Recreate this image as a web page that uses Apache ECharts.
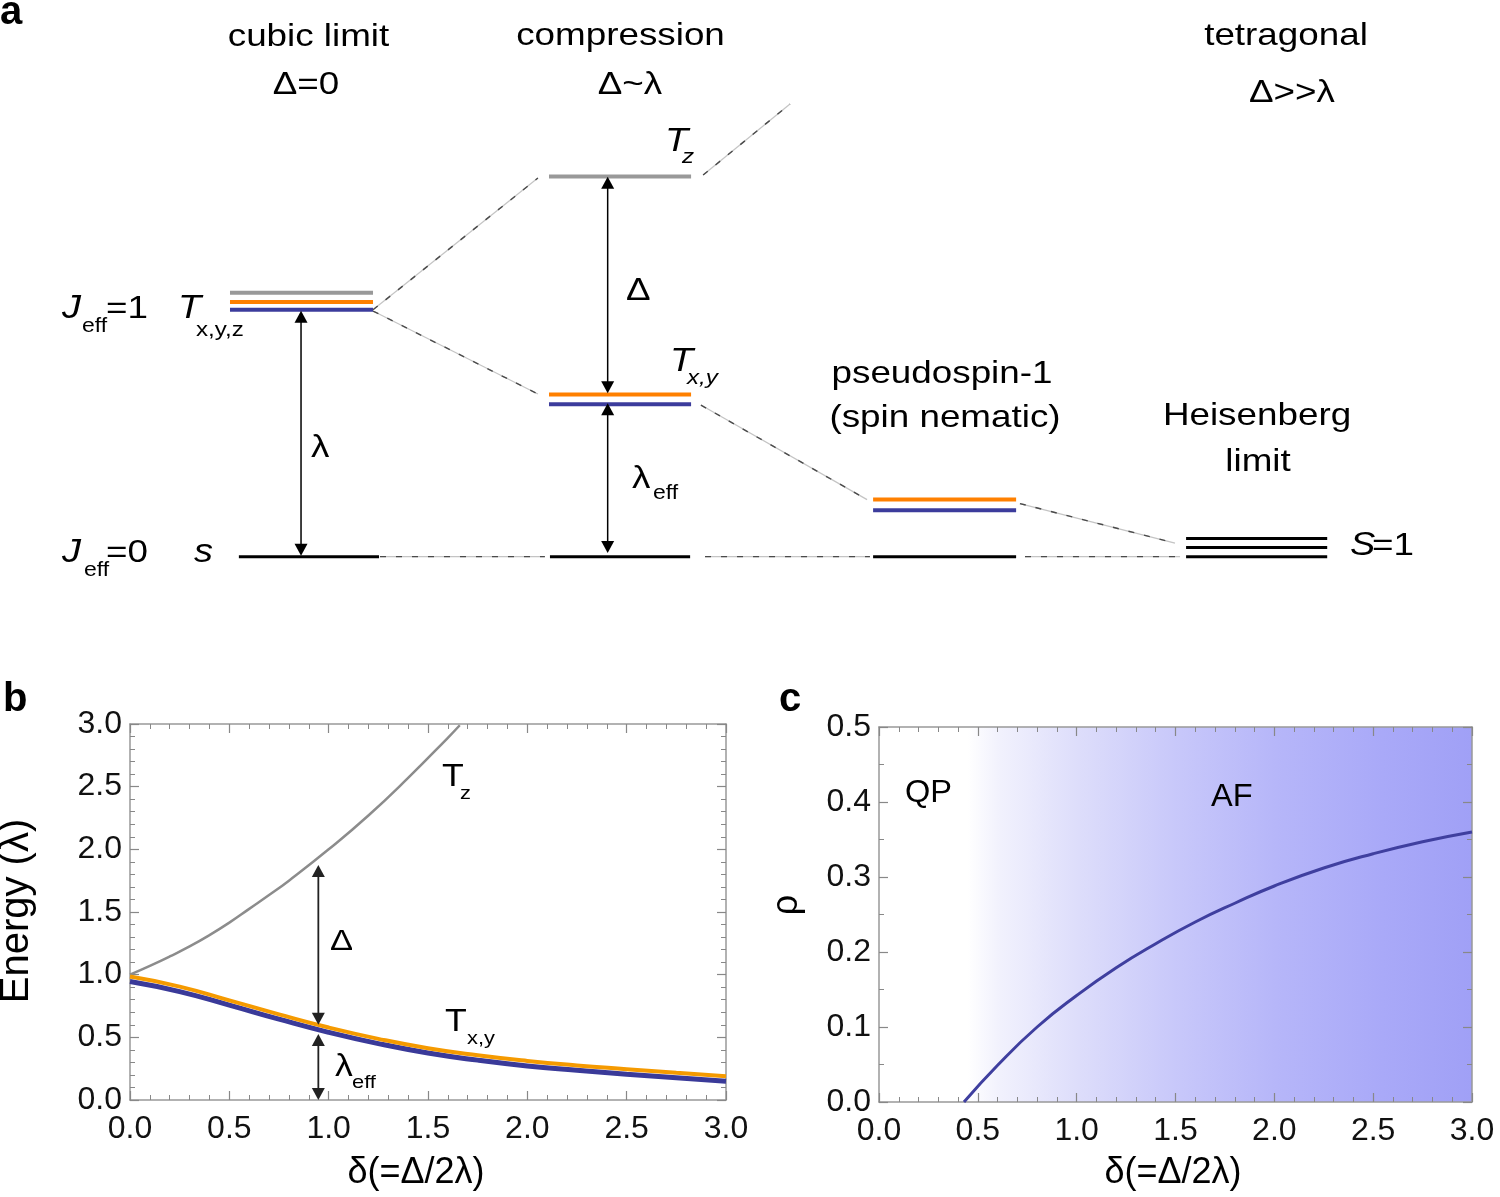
<!DOCTYPE html>
<html><head><meta charset="utf-8">
<script src="https://cdn.jsdelivr.net/npm/echarts@6/dist/echarts.min.js"></script>
<style>html,body{margin:0;padding:0;background:#fff}#c{width:1500px;height:1197px}</style>
</head><body><div id="c"></div>
<script>
// ---------- Panel a: energy-level scheme (x: configuration column, y: energy in units of λ) ----------
// segments [x0, x1, E]
const aGrayLevels   = [[-0.236, 0.215, 1.069], [0.770, 1.218, 1.540]];
const aOrangeLevels = [[-0.236, 0.215, 1.032], [0.770, 1.218, 0.657], [1.792, 2.243, 0.231]];
const aBlueLevels   = [[-0.236, 0.215, 1.000], [0.770, 1.218, 0.617], [1.792, 2.243, 0.188]];
const aBlackLevels  = [[-0.208, 0.234, 0], [0.773, 1.215, 0], [1.792, 2.243, 0],
                       [2.779, 3.224, 0.073], [2.779, 3.224, 0.037], [2.779, 3.224, 0.0]];
// connectors [x0, E0, x1, E1]
const aConnectors = [[0.215, 1.0, 0.735, 1.534], [0.215, 0.995, 0.735, 0.659],
                     [1.256, 1.546, 1.530, 1.834], [1.249, 0.614, 1.773, 0.231],
                     [2.255, 0.215, 2.744, 0.055]];
const aGroundLinks = [[0.237, 0, 0.757, 0], [1.262, 0, 1.782, 0], [2.271, 0, 2.760, 0]];
// double arrows [x, Etop, Ebottom]
const aArrows = [[-0.012, 0.996, 0.004], [0.955, 1.539, 0.662], [0.955, 0.621, 0.015]];

// ---------- Panel b: energies vs δ ----------
const bDelta    = [0, 0.25, 0.5, 0.75, 1.0, 1.25, 1.5, 1.75, 2.0, 2.25, 2.5, 2.75, 3.0];
const bTxyUpper = [0.985, 0.905, 0.795, 0.683, 0.578, 0.488, 0.413, 0.357, 0.312, 0.276, 0.246, 0.217, 0.19];
const bTxyLower = [0.945, 0.865, 0.757, 0.645, 0.54, 0.45, 0.375, 0.318, 0.272, 0.238, 0.206, 0.177, 0.15];
const bTzDelta  = [0, 0.1, 0.2, 0.3, 0.4, 0.5, 0.6, 0.7, 0.8, 1.0, 1.2, 1.4, 1.6, 1.66];
const bTz       = [1.0, 1.07, 1.145, 1.225, 1.315, 1.415, 1.525, 1.635, 1.75, 2.00, 2.27, 2.57, 2.89, 2.99];
const bArrows   = [[0.948, 1.875, 0.60], [0.948, 0.527, 0.0]];

// ---------- Panel c: phase boundary ----------
const cDelta = [0.43, 0.6, 0.8, 1.0, 1.2, 1.4, 1.6, 1.8, 2.0, 2.25, 2.5, 2.75, 3.0];
const cRho   = [0, 0.049, 0.100, 0.142, 0.179, 0.211, 0.240, 0.265, 0.288, 0.312, 0.331, 0.347, 0.360];

const FONT = "'Liberation Sans', Arial, Helvetica, sans-serif";
const zip = (xs, ys) => xs.map((x, i) => [x, ys[i]]);

function levelRender(color, lw) {
  return (p, api) => {
    const a = api.coord([api.value(0), api.value(2)]);
    const b = api.coord([api.value(1), api.value(2)]);
    return {type: 'line', shape: {x1: a[0], y1: a[1], x2: b[0], y2: b[1]},
            style: {stroke: color, lineWidth: lw}};
  };
}
function connRender(x0i, y0i, x1i, y1i) {
  return (p, api) => {
    const a = api.coord([api.value(x0i), api.value(y0i)]);
    const b = api.coord([api.value(x1i), api.value(y1i)]);
    const shape = {x1: a[0], y1: a[1], x2: b[0], y2: b[1]};
    return {type: 'group', children: [
      {type: 'line', shape, style: {stroke: '#c4c4c4', lineWidth: 1.2}},
      {type: 'line', shape, style: {stroke: '#4a4a4a', lineWidth: 1.4, lineDash: [6, 10]}}
    ]};
  };
}
function arrowRender(color, lw, hl, hw) {
  return (p, api) => {
    const x = api.value(0);
    const p0 = api.coord([x, api.value(1)]);
    const p1 = api.coord([x, api.value(2)]);
    return {type: 'group', children: [
      {type: 'line', shape: {x1: p0[0], y1: p0[1] + hl * 0.8, x2: p1[0], y2: p1[1] - hl * 0.8},
       style: {stroke: color, lineWidth: lw}},
      {type: 'polygon', shape: {points: [[p0[0], p0[1]], [p0[0] - hw, p0[1] + hl], [p0[0] + hw, p0[1] + hl]]},
       style: {fill: color}},
      {type: 'polygon', shape: {points: [[p1[0], p1[1]], [p1[0] - hw, p1[1] - hl], [p1[0] + hw, p1[1] - hl]]},
       style: {fill: color}}
    ]};
  };
}
function custom(data, render, z) {
  return {type: 'custom', xAxisIndex: 0, yAxisIndex: 0, data, renderItem: render, silent: true, z: z || 2};
}

function txt(x, base, text, size, o) {
  o = o || {};
  return {type: 'text', x: x, y: base - 0.347 * size, scaleX: o.sx || 1, rotation: o.rot || 0, z: 100,
    style: {text: text, fill: '#000', fontSize: size, fontFamily: FONT,
      fontStyle: o.italic ? 'italic' : 'normal', fontWeight: o.bold ? 'bold' : 'normal',
      textAlign: o.align || 'left', align: o.align || 'left',
      textVerticalAlign: 'middle', verticalAlign: 'middle'}};
}
const S = 1.15;
const graphics = [
  txt(0, 27, 'a', 40, {bold: true}),
  txt(3, 714, 'b', 40, {bold: true}),
  txt(779, 714, 'c', 40, {bold: true}),
  // headings
  txt(308.5, 48, 'cubic limit', 32, {align: 'center', sx: S}),
  txt(306, 96, 'Δ=0', 32, {align: 'center', sx: S}),
  txt(620.5, 47, 'compression', 32, {align: 'center', sx: S}),
  txt(630, 96, 'Δ~λ', 32, {align: 'center', sx: S}),
  txt(1286, 47, 'tetragonal', 32, {align: 'center', sx: S}),
  txt(1292, 104, 'Δ>>λ', 32, {align: 'center', sx: S}),
  txt(942, 385, 'pseudospin-1', 32, {align: 'center', sx: S}),
  txt(945, 429, '(spin nematic)', 32, {align: 'center', sx: S}),
  txt(1257, 427, 'Heisenberg', 32, {align: 'center', sx: S}),
  txt(1258, 473, 'limit', 32, {align: 'center', sx: S}),
  // level labels
  txt(62, 320, 'J', 33, {italic: true, sx: S}),
  txt(82, 333, 'eff', 20, {sx: S}),
  txt(106, 320, '=1', 32, {sx: S}),
  txt(178, 320, 'T', 33, {italic: true, sx: S}),
  txt(196, 337, 'x,y,z', 21, {sx: S}),
  txt(62, 564, 'J', 33, {italic: true, sx: S}),
  txt(84, 577, 'eff', 20, {sx: S}),
  txt(106, 564, '=0', 32, {sx: S}),
  txt(194, 564, 's', 33, {italic: true, sx: S}),
  txt(311, 459, 'λ', 32, {sx: S}),
  txt(626, 302, 'Δ', 32, {sx: S}),
  txt(670, 373, 'T', 33, {italic: true, sx: S}),
  txt(687, 385, 'x,y', 21, {italic: true, sx: S}),
  txt(665, 153, 'T', 33, {italic: true, sx: S}),
  txt(682, 164, 'z', 21, {italic: true, sx: S}),
  txt(632, 490, 'λ', 32, {sx: S}),
  txt(653, 500, 'eff', 20, {sx: S}),
  txt(1350, 557, 'S', 33, {italic: true, sx: S}),
  txt(1372, 557, '=1', 32, {sx: S}),
  // panel b annotations
  txt(442, 788, 'T', 31, {sx: S}),
  txt(460, 800, 'z', 19, {sx: S}),
  txt(445, 1033, 'T', 31, {sx: S}),
  txt(467, 1045, 'x,y', 19, {sx: S}),
  txt(330, 952, 'Δ', 30, {sx: S}),
  txt(335, 1078, 'λ', 31, {sx: S}),
  txt(352, 1089, 'eff', 19, {sx: S}),
  // panel c annotations
  txt(905, 804, 'QP', 31, {sx: 1.05}),
  txt(1211, 808, 'AF', 31, {sx: 1.05}),
  // axis titles
  txt(416, 1186, 'δ(=Δ/2λ)', 36, {align: 'center'}),
  txt(1173, 1186, 'δ(=Δ/2λ)', 36, {align: 'center'}),
  {type: 'text', x: 17, y: 911, rotation: Math.PI / 2, z: 100,
   style: {text: 'Energy (λ)', fill: '#000', fontSize: 40, fontFamily: FONT,
     textAlign: 'center', align: 'center', textVerticalAlign: 'middle', verticalAlign: 'middle'}},
  {type: 'text', x: 787, y: 905, rotation: Math.PI / 2, z: 100,
   style: {text: 'ρ', fill: '#000', fontSize: 36, fontFamily: FONT,
     textAlign: 'center', align: 'center', textVerticalAlign: 'middle', verticalAlign: 'middle'}}
];

const FRAME = '#999';
function frameAxis(gridIndex, position, min, max, interval, minorSplit, labels) {
  const isX = position === 'bottom' || position === 'top';
  return {
    type: 'value', gridIndex, position, min, max, interval,
    axisLine: {show: true, onZero: false, lineStyle: {color: FRAME, width: 1.5}},
    axisTick: {show: true, inside: true, length: 9, lineStyle: {color: '#888', width: 1.2}},
    minorTick: {show: true, splitNumber: minorSplit, length: 5, lineStyle: {color: '#888', width: 1}},
    splitLine: {show: false}, minorSplitLine: {show: false},
    axisLabel: {show: labels, fontSize: 32, color: '#111', fontFamily: FONT,
      margin: isX ? 13 : 8, showMinLabel: true, showMaxLabel: true,
      formatter: v => v.toFixed(1)}
  };
}
const curve = (xi, yi, data, color, width) => ({
  type: 'line', xAxisIndex: xi, yAxisIndex: yi, data, smooth: 0.5,
  showSymbol: false, lineStyle: {color, width}, silent: true});

const chart = echarts.init(document.getElementById('c'), null, {renderer: 'canvas'});
chart.setOption({
  animation: false,
  backgroundColor: '#fff',
  grid: [
    {left: 67, top: 63, width: 1427, height: 543, outerBoundsMode: 'none'},
    {left: 130, top: 724, width: 596, height: 376, outerBoundsMode: 'none'},
    {left: 879, top: 727, width: 593, height: 375, outerBoundsMode: 'none', show: true, borderWidth: 0,
     backgroundColor: new echarts.graphic.LinearGradient(0, 0, 1, 0, [
       {offset: 0, color: '#ffffff'}, {offset: 0.15, color: '#ffffff'},
       {offset: 0.2, color: '#f2f2fd'}, {offset: 0.33, color: '#dedefb'},
       {offset: 0.5, color: '#c8c8fa'}, {offset: 0.67, color: '#b6b6f9'},
       {offset: 0.85, color: '#a9a9f8'}, {offset: 1, color: '#a0a0f6'}])}
  ],
  xAxis: [
    {type: 'value', gridIndex: 0, min: -0.75, max: 3.75, show: false},
    frameAxis(1, 'bottom', 0, 3, 0.5, 5, true),
    frameAxis(1, 'top', 0, 3, 0.5, 5, false),
    frameAxis(2, 'bottom', 0, 3, 0.5, 5, true),
    frameAxis(2, 'top', 0, 3, 0.5, 5, false)
  ],
  yAxis: [
    {type: 'value', gridIndex: 0, min: -0.2, max: 2.0, show: false},
    frameAxis(1, 'left', 0, 3, 0.5, 5, true),
    frameAxis(1, 'right', 0, 3, 0.5, 5, false),
    frameAxis(2, 'left', 0, 0.5, 0.1, 2, true),
    frameAxis(2, 'right', 0, 0.5, 0.1, 2, false)
  ],
  graphic: graphics,
  series: [
    custom(aConnectors, connRender(0, 1, 2, 3), 1),
    custom(aGroundLinks, connRender(0, 1, 2, 3), 1),
    custom(aGrayLevels, levelRender('#999999', 4)),
    custom(aOrangeLevels, levelRender('#ff8000', 4)),
    custom(aBlueLevels, levelRender('#3c3c9c', 4)),
    custom(aBlackLevels, levelRender('#000000', 3)),
    custom(aArrows, arrowRender('#000', 1.5, 12, 6.5), 5),
    curve(1, 1, zip(bTzDelta, bTz), '#8c8c8c', 2.5),
    curve(1, 1, zip(bDelta, bTxyLower), '#3a3a99', 5),
    curve(1, 1, zip(bDelta, bTxyUpper), '#f59a00', 4),
    {type: 'custom', xAxisIndex: 1, yAxisIndex: 1, data: bArrows,
     renderItem: arrowRender('#222', 1.8, 12, 6.5), silent: true, z: 5},
    curve(3, 3, zip(cDelta, cRho), '#3f3f9f', 3)
  ]
});
</script></body></html>
